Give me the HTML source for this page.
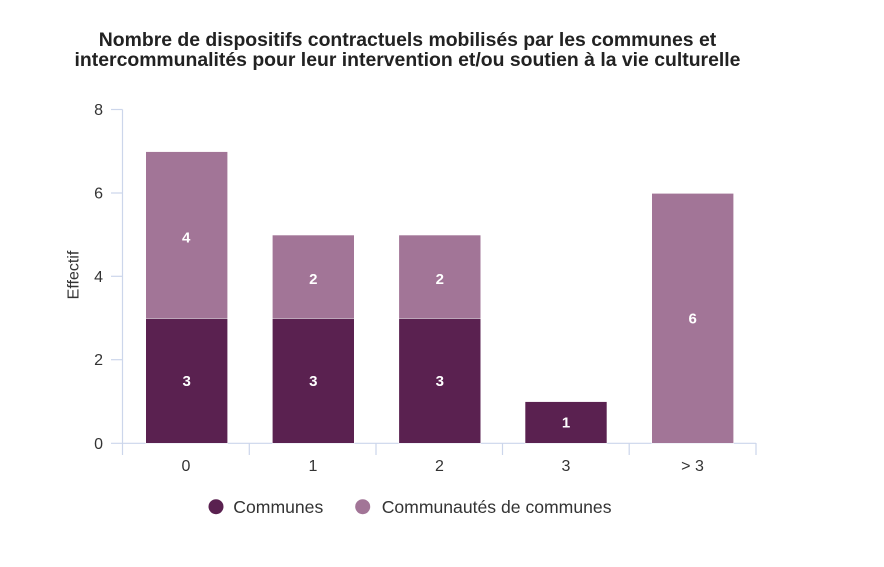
<!DOCTYPE html>
<html><head><meta charset="utf-8"><style>
html,body{margin:0;padding:0;background:#fff;}
svg{display:block;font-family:"Liberation Sans",Arial,sans-serif;}
</style></head><body>
<svg width="884" height="567" viewBox="0 0 884 567" xmlns="http://www.w3.org/2000/svg">
<rect width="884" height="567" fill="#fff"/>
<text x="407.5" y="46" text-anchor="middle" font-size="19.4" font-weight="bold" fill="#222">Nombre de dispositifs contractuels mobilisés par les communes et</text>
<text x="407.5" y="66" text-anchor="middle" font-size="19.4" font-weight="bold" fill="#222">intercommunalités pour leur intervention et/ou soutien à la vie culturelle</text>
<g stroke="#ccd6eb" stroke-width="1.2" fill="none">
<line x1="122.5" y1="109.5" x2="122.5" y2="443.5"/>
<line x1="111" y1="109.5" x2="122.5" y2="109.5"/>
<line x1="111" y1="193" x2="122.5" y2="193"/>
<line x1="111" y1="276.3" x2="122.5" y2="276.3"/>
<line x1="111" y1="359.7" x2="122.5" y2="359.7"/>
<line x1="111" y1="443.3" x2="756" y2="443.3"/>
<line x1="122.5" y1="443" x2="122.5" y2="455"/>
<line x1="249.3" y1="443" x2="249.3" y2="455"/>
<line x1="376" y1="443" x2="376" y2="455"/>
<line x1="502.5" y1="443" x2="502.5" y2="455"/>
<line x1="629.2" y1="443" x2="629.2" y2="455"/>
<line x1="756" y1="443" x2="756" y2="455"/>
</g>
<g font-size="16" fill="#333" text-anchor="end">
<text x="103" y="115">8</text>
<text x="103" y="198.5">6</text>
<text x="103" y="281.8">4</text>
<text x="103" y="365.2">2</text>
<text x="103" y="448.8">0</text>
</g>
<text transform="translate(78.5,275) rotate(-90)" text-anchor="middle" font-size="16" fill="#333">Effectif</text>
<g font-size="16" fill="#333" text-anchor="middle">
<text x="186" y="471">0</text>
<text x="313" y="471">1</text>
<text x="439.5" y="471">2</text>
<text x="566" y="471">3</text>
<text x="692.5" y="471">&gt; 3</text>
</g>
<g stroke="#fff" stroke-width="0.6">
<rect x="145.7" y="151.6" width="82" height="166.7" fill="#a27597"/>
<rect x="145.7" y="318.3" width="82" height="125" fill="#5a2150"/>
<rect x="272.3" y="235" width="82" height="83.3" fill="#a27597"/>
<rect x="272.3" y="318.3" width="82" height="125" fill="#5a2150"/>
<rect x="398.8" y="235" width="82" height="83.3" fill="#a27597"/>
<rect x="398.8" y="318.3" width="82" height="125" fill="#5a2150"/>
<rect x="525" y="401.6" width="82" height="41.7" fill="#5a2150"/>
<rect x="651.7" y="193.3" width="82" height="250" fill="#a27597"/>
</g>
<g font-size="15" font-weight="bold" fill="#fff" text-anchor="middle">
<text x="186.2" y="242.3">4</text>
<text x="186.7" y="386">3</text>
<text x="313.3" y="284">2</text>
<text x="313.3" y="386">3</text>
<text x="439.8" y="284">2</text>
<text x="439.8" y="386">3</text>
<text x="566" y="427.5">1</text>
<text x="692.7" y="323.5">6</text>
</g>
<circle cx="216" cy="506.7" r="7.5" fill="#5a2150"/>
<text x="233.3" y="513" font-size="17.6" fill="#333">Communes</text>
<circle cx="362.7" cy="506.7" r="7.5" fill="#a27597"/>
<text x="381.7" y="513" font-size="17.6" fill="#333">Communautés de communes</text>
</svg>
</body></html>
